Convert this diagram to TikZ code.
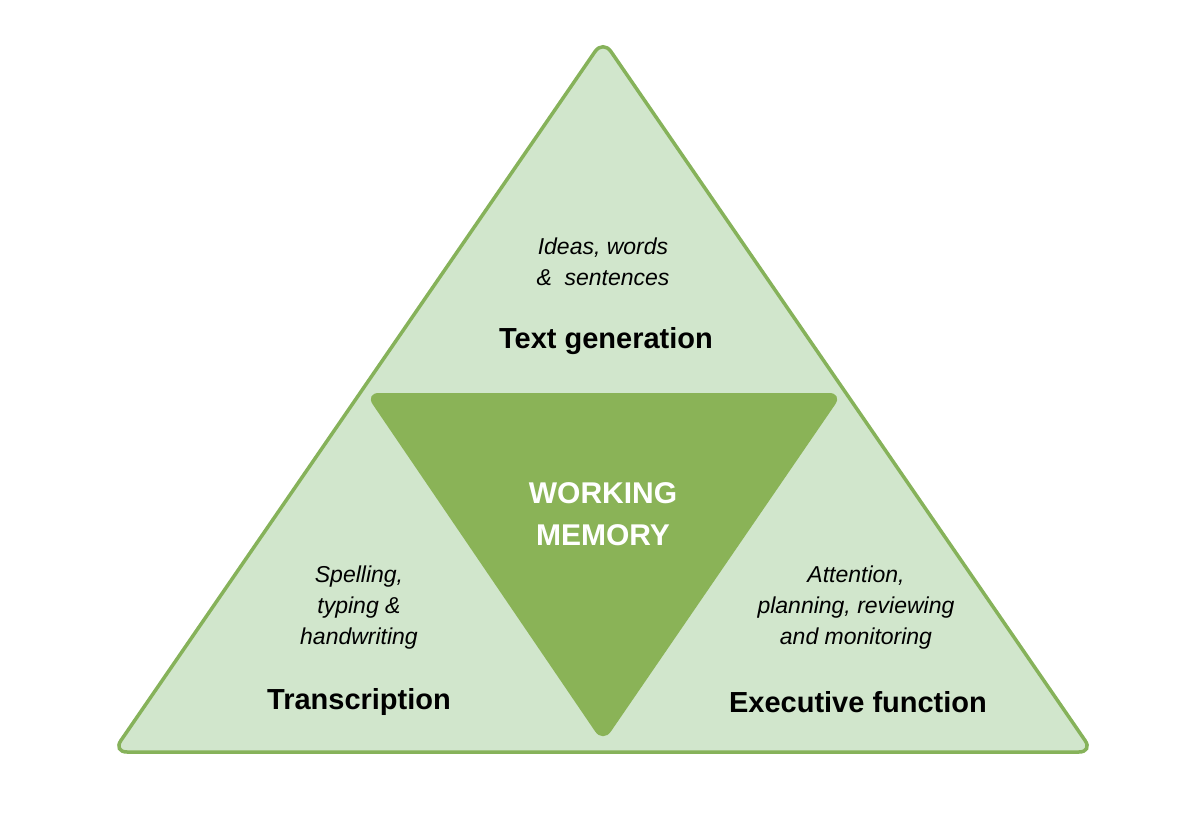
\documentclass[tikz,border=0pt]{standalone}
\usepackage{fontspec}
\setmainfont{Liberation Sans}
\definecolor{lightg}{HTML}{D1E6CC}
\definecolor{edgeg}{HTML}{86B25A}
\definecolor{darkg}{HTML}{8AB357}
\begin{document}
\begin{tikzpicture}[x=1pt,y=-1pt,
  title/.style={font=\fontsize{29}{34}\selectfont\bfseries},
  sub/.style={font=\fontsize{23}{31}\selectfont\itshape,align=center},
  wm/.style={font=\fontsize{30}{42}\selectfont\bfseries,text=white,align=center}]
\useasboundingbox (0,0) rectangle (1200,824);
\draw[fill=lightg,draw=edgeg,line width=3.5pt,rounded corners=14pt]
  (603,40) -- (1093,752) -- (113,752) -- cycle;
\fill[darkg,rounded corners=14pt] (365,393) -- (843,393) -- (603,743) -- cycle;
\node[sub] (tgs) at (603,262) {Ideas, words\\\&\ \ sentences};
\node[title] (tg) at (606,341) {Text generation};
\node[wm] (wmn) at (603,514) {WORKING\\MEMORY};
\node[sub] (trs) at (359,608) {Spelling,\\typing \&\\handwriting};
\node[title] (tr) at (359,702) {Transcription};
\node[sub] (efs) at (856,608) {Attention,\\planning, reviewing\\and monitoring};
\node[title] (ef) at (858,702) {Executive function};
\end{tikzpicture}
\end{document}
